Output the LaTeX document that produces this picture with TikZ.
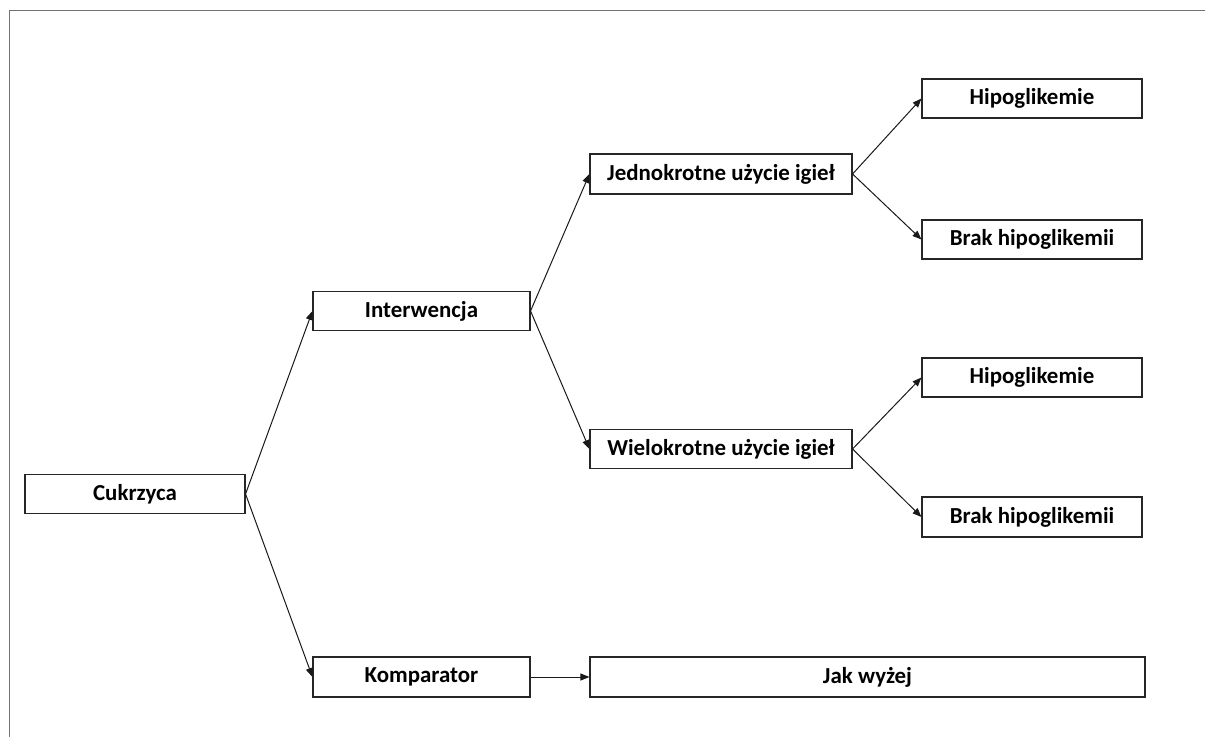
\documentclass[tikz,border=0pt]{standalone}
\usepackage{fontspec}
\setmainfont{Carlito}
\usetikzlibrary{arrows.meta}
\begin{document}
\begin{tikzpicture}[x=1bp,y=-1bp,
  box/.style={draw=black!85,line width=1.1bp,rectangle,minimum height=39bp,inner sep=0pt,font=\fontsize{23}{25}\selectfont\bfseries},
  conn/.style={draw=black!90,line width=1bp,-{Triangle[length=9bp,width=7bp]}}]
\useasboundingbox (0,0) rectangle (1205,737);
\draw[black!55,line width=1bp] (9,737) -- (9,11) -- (1205,11);
\node[box,minimum width=220bp] (cuk) at (135,494) {Cukrzyca};
\node[box,minimum width=217bp] (int) at (421.5,311) {Interwencja};
\node[box,minimum width=217bp,minimum height=40bp] (kom) at (421.5,677) {Komparator};
\node[box,minimum width=262bp,minimum height=40bp] (jed) at (721,174) {Jednokrotne użycie igieł};
\node[box,minimum width=262bp] (wie) at (721,449) {Wielokrotne użycie igieł};
\node[box,minimum width=220bp] (h1) at (1032,98.5) {Hipoglikemie};
\node[box,minimum width=220bp] (b1) at (1032,239.5) {Brak hipoglikemii};
\node[box,minimum width=220bp] (h2) at (1032,377.5) {Hipoglikemie};
\node[box,minimum width=220bp,minimum height=40bp] (b2) at (1032,517) {Brak hipoglikemii};
\node[box,minimum width=555bp,minimum height=40bp] (jak) at (867.5,677) {Jak wyżej};
\draw[conn] (cuk.east) -- (int.west);
\draw[conn] (cuk.east) -- (kom.west);
\draw[conn] (int.east) -- (jed.west);
\draw[conn] (int.east) -- (wie.west);
\draw[conn] (jed.east) -- (h1.west);
\draw[conn] (jed.east) -- (b1.west);
\draw[conn] (wie.east) -- (h2.west);
\draw[conn] (wie.east) -- (b2.west);
\draw[conn] (kom.east) -- (jak.west);
\end{tikzpicture}
\end{document}
